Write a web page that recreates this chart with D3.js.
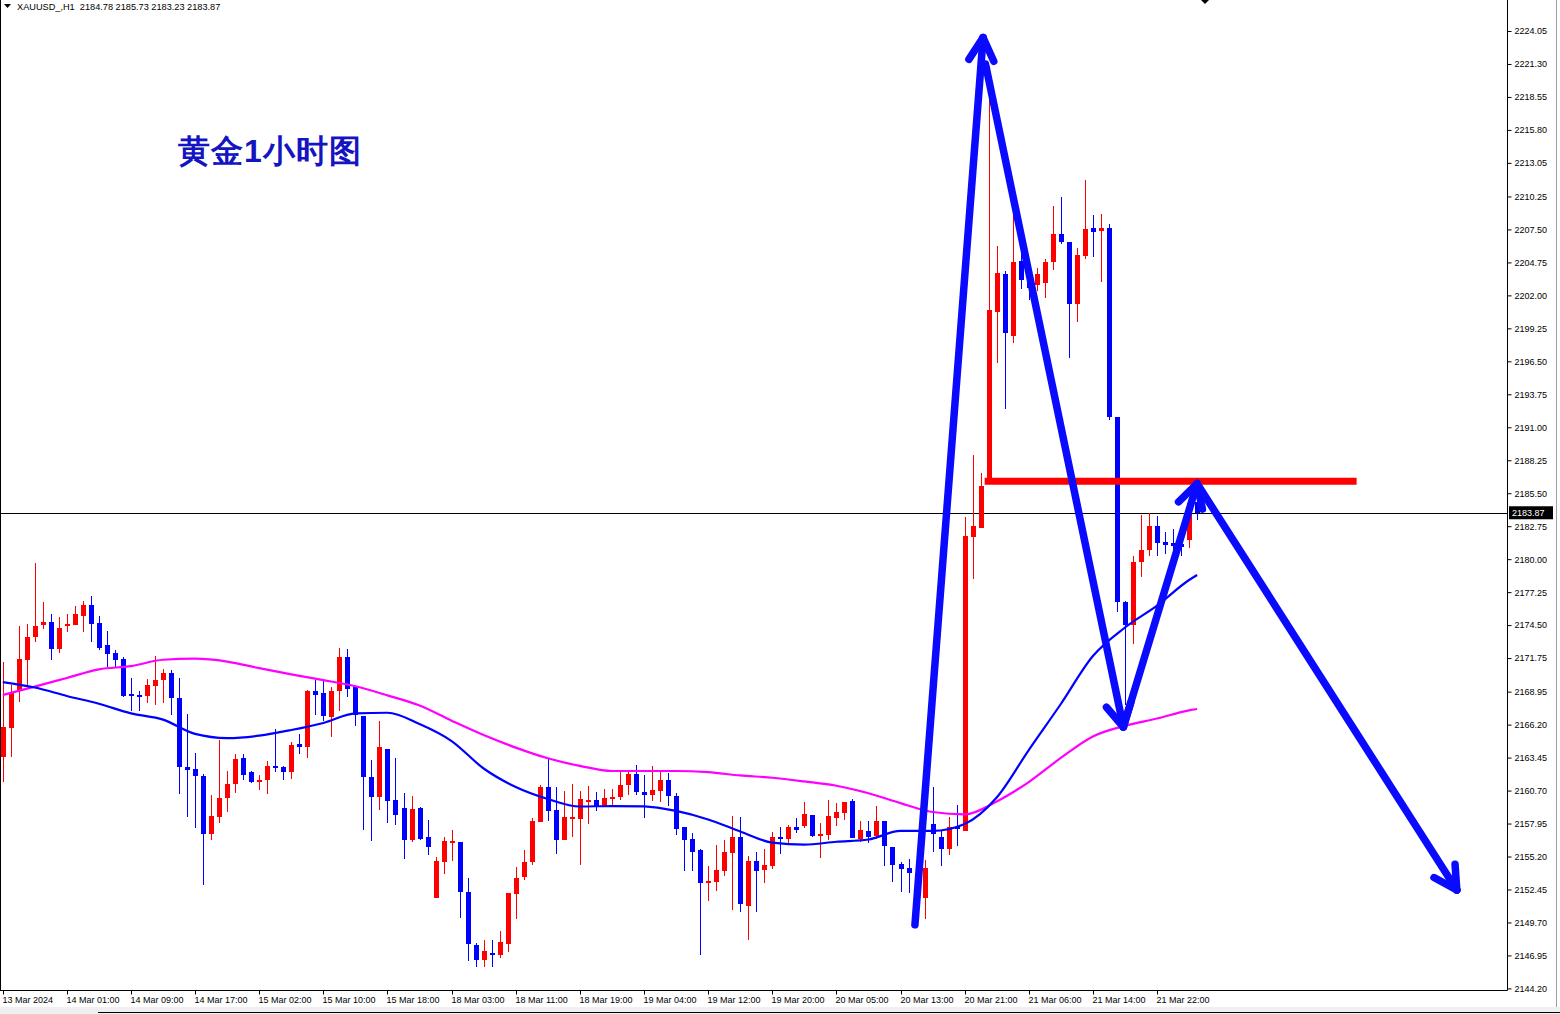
<!DOCTYPE html>
<html><head><meta charset="utf-8">
<script src="https://cdn.jsdelivr.net/npm/d3@7"></script>
<style>
body{margin:0;background:#fff;}
svg{display:block;}
text{font-family:"Liberation Sans",Arial,sans-serif;}
</style>
</head><body>
<svg id="c" width="1560" height="1014"></svg>
<script>
// ---------- DATA ----------
const symbolHeader = "XAUUSD_,H1  2184.78 2185.73 2183.23 2183.87";
const titleText = "黄金1小时图";
const lastPrice = 2183.87;

const xLabelIdx = [0,8,16,24,32,40,48,56,64,72,80,88,96,104,112,120,128,136,144];
const xLabels = ["13 Mar 2024","14 Mar 01:00","14 Mar 09:00","14 Mar 17:00","15 Mar 02:00","15 Mar 10:00","15 Mar 18:00","18 Mar 03:00","18 Mar 11:00","18 Mar 19:00","19 Mar 04:00","19 Mar 12:00","19 Mar 20:00","20 Mar 05:00","20 Mar 13:00","20 Mar 21:00","21 Mar 06:00","21 Mar 14:00","21 Mar 22:00"];
const yTicks = [2224.05,2221.30,2218.55,2215.80,2213.05,2210.25,2207.50,2204.75,2202.00,2199.25,2196.50,2193.75,2191.00,2188.25,2185.50,2182.75,2180.00,2177.25,2174.50,2171.75,2168.95,2166.20,2163.45,2160.70,2157.95,2155.20,2152.45,2149.70,2146.95,2144.20];

const opens = [
2163.5,2165.9,2169.1,2171.6,2173.5,2174.5,2174.8,2172.5,2174.45,2174.5,
2175.3,2176.2,2174.7,2172.8,2172.2,2171.7,2168.75,2168.7,2168.6,2169.4,
2169.9,2170.5,2168.4,2162.65,2162.5,2161.9,2157.1,2158.5,2160.1,2161.25,
2163.4,2162.25,2161.4,2161.6,2162.75,2162.65,2162.25,2164.6,2164.35,2169.0,
2168.85,2166.85,2169.0,2171.85,2169.3,2166.9,2161.8,2160.2,2164.2,2159.9,
2159.25,2156.6,2159.25,2156.8,2151.75,2154.75,2156.45,2156.4,2152.25,2147.85,
2146.6,2147.15,2146.95,2147.9,2152.1,2153.45,2154.75,2158.1,2161.0,2159.1,
2156.6,2158.4,2158.3,2159.9,2159.9,2159.4,2160.0,2160.2,2161.15,2162.1,
2160.6,2160.35,2160.65,2161.6,2160.25,2157.65,2156.65,2155.75,2152.95,2153.1,
2154.0,2155.5,2156.8,2151.1,2154.8,2154.1,2154.45,2156.85,2156.7,2157.65,
2157.75,2158.65,2156.9,2157.0,2158.45,2158.85,2159.8,2156.65,2157.35,2156.9,
2158.15,2156.0,2154.55,2154.25,2153.8,2151.75,2157.9,2156.8,2155.85,2157.7,
2157.3,2181.85,2182.6,2186.5,2200.65,2203.8,2198.65,2204.85,2203.3,2202.9,
2203.05,2204.8,2207.1,2206.45,2201.3,2205.3,2207.6,2207.35,2207.6,2191.85,
2176.45,2174.55,2179.8,2180.75,2182.75,2181.4,2181.35,2181.3,2181.6,2184.78
];
const highs = [
2171.4,2169.5,2174.4,2174.6,2179.7,2176.4,2175.4,2175.2,2175.4,2176.1,
2176.5,2176.9,2175.3,2174.0,2172.4,2171.8,2170.1,2169.0,2170.0,2171.9,
2170.8,2170.75,2170.1,2167.1,2163.8,2162.1,2160.3,2164.9,2162.3,2163.75,
2163.75,2162.35,2162.0,2163.2,2165.8,2162.75,2164.75,2165.4,2169.1,2169.9,
2169.8,2169.35,2172.6,2172.5,2169.35,2166.95,2163.25,2166.5,2164.2,2163.4,
2160.5,2160.25,2159.35,2158.25,2155.2,2156.8,2157.4,2156.4,2153.4,2148.0,
2148.25,2148.25,2149.0,2152.15,2154.35,2155.75,2158.4,2161.15,2163.35,2161.0,
2160.65,2161.25,2160.65,2161.1,2160.6,2160.85,2160.85,2162.4,2162.4,2162.85,
2162.0,2162.75,2162.25,2162.15,2160.5,2157.65,2157.15,2155.85,2154.45,2156.15,
2156.55,2158.6,2158.5,2155.25,2155.55,2155.85,2157.25,2157.65,2157.85,2158.4,
2159.75,2158.65,2158.0,2159.9,2159.65,2159.75,2160.0,2158.15,2158.15,2159.4,
2158.15,2156.0,2154.75,2155.0,2154.6,2154.9,2161.0,2157.3,2158.5,2159.5,
2183.5,2188.7,2187.15,2221.15,2206.15,2204.0,2210.5,2206.3,2204.45,2204.3,
2205.05,2209.45,2210.2,2206.45,2205.95,2211.6,2208.7,2208.8,2207.95,2191.85,
2176.5,2180.3,2183.7,2183.85,2183.6,2182.3,2182.5,2182.3,2185.2,2185.73
];
const lows = [
2161.4,2163.5,2168.1,2169.5,2173.1,2174.2,2171.6,2172.2,2173.9,2174.5,
2173.9,2173.1,2172.45,2171.0,2171.0,2168.5,2167.3,2167.3,2168.0,2167.8,
2168.0,2167.0,2160.4,2158.5,2157.6,2152.8,2156.6,2158.0,2158.9,2160.5,
2161.6,2161.3,2160.75,2160.4,2162.25,2161.6,2161.65,2163.75,2163.4,2167.0,
2166.5,2165.2,2167.3,2168.5,2166.1,2157.4,2156.5,2159.1,2158.0,2157.8,
2155.0,2156.4,2156.6,2155.3,2151.75,2153.75,2154.85,2150.1,2146.5,2146.0,
2146.0,2146.0,2146.7,2147.2,2150.0,2153.25,2154.5,2158.1,2158.2,2155.45,
2156.6,2156.85,2154.5,2157.95,2159.0,2159.35,2159.4,2159.9,2160.35,2160.35,
2158.4,2159.85,2159.75,2159.4,2157.0,2154.0,2154.0,2147.0,2151.5,2152.35,
2153.6,2150.7,2150.6,2148.25,2150.6,2152.95,2154.2,2155.45,2156.35,2157.15,
2157.6,2156.8,2155.05,2156.55,2157.75,2158.25,2156.75,2156.4,2156.3,2156.65,
2154.4,2153.05,2152.25,2152.15,2150.0,2150.0,2155.55,2154.4,2155.35,2156.05,
2157.3,2178.35,2182.6,2186.5,2196.35,2192.5,2198.0,2202.5,2201.6,2202.4,
2201.75,2204.1,2206.3,2196.75,2199.8,2205.05,2205.2,2203.15,2191.6,2175.6,
2167.85,2172.9,2178.5,2180.3,2180.25,2180.45,2180.1,2180.3,2180.9,2183.23
];
const closes = [
2166.0,2168.8,2171.7,2173.5,2174.4,2174.8,2172.5,2174.3,2174.6,2175.4,
2176.2,2174.6,2172.6,2172.1,2171.6,2168.6,2168.6,2168.55,2169.5,2169.9,
2170.5,2168.4,2162.7,2162.45,2161.9,2157.1,2158.6,2160.1,2161.25,2163.3,
2162.0,2161.4,2161.6,2162.75,2162.6,2162.25,2164.5,2164.35,2169.0,2168.7,
2166.9,2169.0,2171.8,2169.15,2167.0,2161.8,2160.2,2164.3,2159.85,2158.7,
2156.6,2159.15,2156.65,2156.0,2154.8,2156.5,2156.5,2152.2,2147.9,2146.6,
2147.3,2146.95,2148.1,2152.15,2153.4,2154.75,2158.15,2161.0,2159.0,2156.6,
2158.5,2158.5,2160.0,2159.95,2159.35,2160.1,2160.2,2161.15,2162.1,2160.6,
2160.35,2160.75,2161.6,2160.25,2157.5,2156.6,2155.6,2152.95,2153.15,2154.05,
2155.55,2156.8,2151.2,2154.8,2154.0,2154.5,2156.8,2156.7,2157.65,2157.4,
2158.75,2156.9,2157.1,2158.55,2158.9,2159.75,2156.75,2157.4,2156.8,2158.15,
2156.05,2154.5,2154.15,2153.8,2152.95,2154.25,2157.1,2155.85,2157.65,2157.5,
2181.95,2182.75,2186.1,2200.8,2203.85,2198.9,2204.75,2203.3,2202.6,2203.8,
2204.8,2207.15,2206.45,2201.3,2205.35,2207.55,2207.3,2207.6,2191.85,2176.45,
2174.5,2179.8,2180.75,2182.75,2181.35,2181.2,2181.1,2181.0,2184.7,2183.87
];

// moving averages (bar index, value)
const maIdx = [0,4,8,12,16,20,24,28,32,36,40,44,48,52,56,60,64,68,72,76,80,84,88,92,96,100,104,108,112,116,120,124,128,132,136,140,144,148,149];
const maFast = [2169.75,2169.30,2168.59,2167.94,2167.14,2166.62,2165.43,2165.08,2165.28,2165.75,2166.34,2167.14,2167.19,2166.25,2164.83,2162.54,2161.00,2160.00,2159.37,2159.41,2159.38,2159.00,2158.29,2157.29,2156.36,2156.19,2156.43,2156.62,2157.33,2157.33,2157.91,2160.12,2164.08,2167.92,2171.92,2174.30,2176.13,2178.26,2178.68];
const maSlow = [2168.67,2169.37,2170.09,2170.81,2171.08,2171.61,2171.70,2171.46,2170.91,2170.39,2169.91,2169.40,2168.64,2167.79,2166.53,2165.33,2164.28,2163.39,2162.76,2162.33,2162.33,2162.33,2162.23,2161.96,2161.77,2161.46,2161.10,2160.48,2159.65,2158.91,2158.72,2159.79,2161.41,2163.42,2165.21,2166.10,2166.71,2167.39,2167.50];

// hand-drawn annotations (bar index, price)
const arrowStarts = [[113.8,2149.5],[122.6,2221.3],[139.8,2166.0],[149.0,2186.3]];
const arrowEnds   = [[122.3,2223.5],[139.8,2166.0],[149.0,2186.3],[181.4,2152.4]];
const resistLevel = 2186.5;
const resistFrom = 122.5, resistTo = 168.9;

// ---------- CHART ----------
const W = 1560, H = 1014, plotR = 1507, plotB = 990;
const svg = d3.select("#c");
svg.append("rect").attr("width",W).attr("height",H).attr("fill","#fff");

const x = d3.scaleLinear().domain([0,149]).range([2.7,1197.1]);
const y = d3.scaleLinear().domain([2144.20,2224.05]).range([988.4,31]);

svg.append("defs").append("clipPath").attr("id","clip")
  .append("rect").attr("x",0).attr("y",0).attr("width",plotR).attr("height",plotB);

const plot = svg.append("g").attr("clip-path","url(#clip)");
const bull = "#ff0000", bear = "#0000ff";
const idx = d3.range(opens.length);
const col = i => closes[i] >= opens[i] ? bull : bear;
const cx = i => Math.round(x(i));

// current price line
plot.append("line").attr("x1",0).attr("x2",plotR)
  .attr("y1",Math.round(y(lastPrice))+0.5).attr("y2",Math.round(y(lastPrice))+0.5)
  .attr("stroke","#000").attr("stroke-width",1);

// wicks
plot.selectAll("line.wick").data(idx).join("line").attr("class","wick")
  .attr("x1",i=>cx(i)+0.5).attr("x2",i=>cx(i)+0.5)
  .attr("y1",i=>Math.round(y(highs[i]))).attr("y2",i=>Math.round(y(lows[i])))
  .attr("stroke",col).attr("stroke-width",1);
// bodies
plot.selectAll("rect.body").data(idx).join("rect").attr("class","body")
  .attr("x",i=>cx(i)-2)
  .attr("width",5)
  .attr("y",i=>Math.round(y(Math.max(opens[i],closes[i]))))
  .attr("height",i=>Math.max(2,Math.round(y(Math.min(opens[i],closes[i])))-Math.round(y(Math.max(opens[i],closes[i])))))
  .attr("fill",col);

// moving averages
const maLine = d3.line().x(d=>x(d[0])).y(d=>y(d[1])).curve(d3.curveMonotoneX);
plot.append("path").attr("d",maLine(maIdx.map((k,j)=>[k,maSlow[j]])))
  .attr("fill","none").attr("stroke","#ff00ff").attr("stroke-width",2.2);
plot.append("path").attr("d",maLine(maIdx.map((k,j)=>[k,maFast[j]])))
  .attr("fill","none").attr("stroke","#0000ff").attr("stroke-width",2.2);

// resistance line
plot.append("line").attr("x1",x(resistFrom)).attr("x2",x(resistTo))
  .attr("y1",y(resistLevel)).attr("y2",y(resistLevel))
  .attr("stroke","#ff0000").attr("stroke-width",7);

// arrows
const arrowCol = "#0a0aff";
arrowStarts.forEach((s,k)=>{
  const e = arrowEnds[k];
  const x1=x(s[0]), y1=y(s[1]), x2=x(e[0]), y2=y(e[1]);
  plot.append("line").attr("x1",x1).attr("y1",y1).attr("x2",x2).attr("y2",y2)
    .attr("stroke",arrowCol).attr("stroke-width",7.5).attr("stroke-linecap","round");
  const ang = Math.atan2(y2-y1,x2-x1);
  [0.5,-0.5].forEach(da=>{
    const a = ang+Math.PI+da, L=26;
    plot.append("line").attr("x1",x2).attr("y1",y2)
      .attr("x2",x2+L*Math.cos(a)).attr("y2",y2+L*Math.sin(a))
      .attr("stroke",arrowCol).attr("stroke-width",7.5).attr("stroke-linecap","round");
  });
});

// title
svg.append("text").attr("x",178).attr("y",162).text(titleText)
  .attr("font-family","'Noto Sans CJK SC',sans-serif").attr("font-weight",700)
  .attr("font-size",32).attr("letter-spacing",1).attr("fill","#1414c0");

// header
svg.append("path").attr("d","M4,4 L11,4 L7.5,8 Z").attr("fill","#000");
svg.append("text").attr("x",17).attr("y",10).attr("font-size",9.2).attr("fill","#000")
  .attr("xml:space","preserve").style("white-space","pre").text(symbolHeader);
// chart shift marker
svg.append("path").attr("d","M1201,0 L1209,0 L1205,4 Z").attr("fill","#000");

// frame
const frame = svg.append("g").attr("stroke","#000").attr("stroke-width",1);
frame.append("line").attr("x1",0.5).attr("x2",0.5).attr("y1",0).attr("y2",plotB);
frame.append("line").attr("x1",0).attr("x2",plotR+0.5).attr("y1",plotB+0.5).attr("y2",plotB+0.5);
frame.append("line").attr("x1",plotR+0.5).attr("x2",plotR+0.5).attr("y1",0).attr("y2",plotB+0.5);

// y axis
const yAxis = svg.append("g").attr("transform",`translate(${plotR+0.5},0)`)
  .call(d3.axisRight(y).tickValues(yTicks).tickSize(4).tickPadding(3).tickFormat(d=>d.toFixed(2)));
yAxis.select(".domain").remove();
yAxis.selectAll("text").attr("font-size",9).attr("font-family","'Liberation Sans',Arial,sans-serif").attr("fill","#000");
yAxis.selectAll("line").attr("stroke","#000");

// last price tag
const ly = y(lastPrice);
svg.append("rect").attr("x",plotR+2).attr("y",ly-6.5).attr("width",44).attr("height",13).attr("fill","#000");
svg.append("text").attr("x",plotR+5).attr("y",ly+3.3).attr("font-size",9).attr("fill","#fff").text(lastPrice.toFixed(2));

// x axis
const xAxis = svg.append("g").attr("transform",`translate(0,${plotB+0.5})`)
  .call(d3.axisBottom(x).tickValues(xLabelIdx).tickSize(4).tickFormat((d,i)=>xLabels[i]));
xAxis.select(".domain").remove();
xAxis.selectAll(".tick").attr("transform",d=>`translate(${cx(d)+0.5},0)`);
xAxis.selectAll("line").attr("stroke","#000");
xAxis.selectAll("text").attr("text-anchor","start").attr("x",-1).attr("y",6).attr("dy","0.71em")
  .attr("font-size",9).attr("font-family","'Liberation Sans',Arial,sans-serif").attr("fill","#000");

// window chrome at bottom / right
svg.append("rect").attr("x",0).attr("y",1007).attr("width",W).attr("height",7).attr("fill","#f0f0f0");
svg.append("line").attr("x1",98).attr("x2",W).attr("y1",1012.5).attr("y2",1012.5).attr("stroke","#000");
svg.append("line").attr("x1",1556.5).attr("x2",1556.5).attr("y1",0).attr("y2",1007).attr("stroke","#a0a0a0");
</script>
</body></html>
